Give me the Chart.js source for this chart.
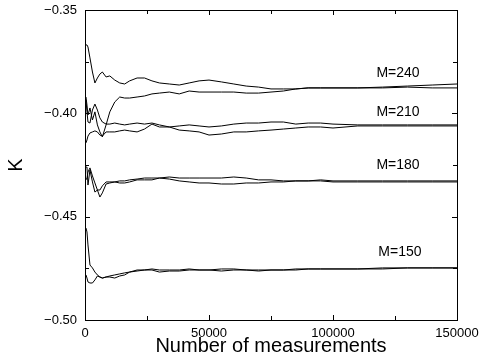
<!DOCTYPE html>
<html>
<head>
<meta charset="utf-8">
<script src="https://cdn.jsdelivr.net/npm/chart.js@4.4.1/dist/chart.umd.min.js"></script>
<style>
  html, body { margin: 0; padding: 0; background: #fff; }
  canvas { display: block; }
</style>
</head>
<body>
<canvas id="kChart" width="480" height="360"></canvas>
<script>
// number of measurements (x) shared by all runs
let measurements = [400, 800, 1200, 2000, 3000, 4000, 5000, 6000, 7000, 8500,
  10000, 12000, 14000, 16000, 18000, 21000, 24000, 27000, 30000, 34000,
  38000, 42000, 46000, 50000, 55000, 60000, 65000, 70000, 75000, 80000,
  85000, 90000, 95000, 100000, 110000, 120000, 130000, 140000, 150000];

// K estimates, two runs for each M
let m240a = [-0.3669, -0.3669, -0.3679, -0.3732, -0.3800, -0.3853, -0.3829, -0.3810, -0.3800, -0.3824,
  -0.3819, -0.3839, -0.3853, -0.3858, -0.3843, -0.3829, -0.3829, -0.3843, -0.3853, -0.3858,
  -0.3863, -0.3853, -0.3843, -0.3839, -0.3848, -0.3858, -0.3868, -0.3873, -0.3882, -0.3882,
  -0.3882, -0.3877, -0.3877, -0.3877, -0.3877, -0.3873, -0.3868, -0.3863, -0.3858];
let m240b = [-0.3921, -0.3960, -0.4008, -0.3974, -0.4032, -0.3993, -0.4056, -0.4090, -0.4114, -0.4056,
  -0.3993, -0.3945, -0.3921, -0.3926, -0.3926, -0.3921, -0.3916, -0.3906, -0.3902, -0.3897,
  -0.3906, -0.3892, -0.3897, -0.3897, -0.3897, -0.3897, -0.3902, -0.3902, -0.3897, -0.3892,
  -0.3882, -0.3877, -0.3877, -0.3877, -0.3877, -0.3877, -0.3873, -0.3877, -0.3877];
let m210a = [-0.3935, -0.3993, -0.4042, -0.4047, -0.3984, -0.3955, -0.3984, -0.4022, -0.4042, -0.4052,
  -0.4052, -0.4047, -0.4052, -0.4056, -0.4052, -0.4047, -0.4052, -0.4047, -0.4056, -0.4066,
  -0.4061, -0.4056, -0.4061, -0.4066, -0.4061, -0.4052, -0.4047, -0.4047, -0.4042, -0.4042,
  -0.4052, -0.4047, -0.4047, -0.4052, -0.4056, -0.4056, -0.4056, -0.4056, -0.4056];
let m210b = [-0.4143, -0.4129, -0.4110, -0.4095, -0.4090, -0.4085, -0.4090, -0.4105, -0.4110, -0.4090,
  -0.4090, -0.4090, -0.4085, -0.4081, -0.4085, -0.4090, -0.4076, -0.4052, -0.4066, -0.4066,
  -0.4081, -0.4085, -0.4090, -0.4105, -0.4100, -0.4090, -0.4090, -0.4085, -0.4081, -0.4076,
  -0.4071, -0.4066, -0.4066, -0.4071, -0.4061, -0.4061, -0.4061, -0.4061, -0.4061];
let m180a = [-0.4260, -0.4260, -0.4347, -0.4274, -0.4332, -0.4381, -0.4371, -0.4371, -0.4351, -0.4332,
  -0.4332, -0.4332, -0.4337, -0.4337, -0.4332, -0.4322, -0.4322, -0.4322, -0.4313, -0.4308,
  -0.4313, -0.4313, -0.4313, -0.4313, -0.4313, -0.4308, -0.4313, -0.4322, -0.4322, -0.4327,
  -0.4327, -0.4327, -0.4322, -0.4327, -0.4327, -0.4327, -0.4327, -0.4327, -0.4327];
let m180b = [-0.4322, -0.4313, -0.4284, -0.4264, -0.4303, -0.4337, -0.4371, -0.4405, -0.4385, -0.4342,
  -0.4337, -0.4332, -0.4327, -0.4327, -0.4322, -0.4318, -0.4313, -0.4313, -0.4313, -0.4318,
  -0.4327, -0.4332, -0.4337, -0.4337, -0.4342, -0.4342, -0.4337, -0.4337, -0.4332, -0.4332,
  -0.4327, -0.4327, -0.4327, -0.4332, -0.4332, -0.4332, -0.4332, -0.4332, -0.4332];
let m150a = [-0.4555, -0.4574, -0.4637, -0.4734, -0.4748, -0.4768, -0.4782, -0.4792, -0.4797, -0.4792,
  -0.4787, -0.4782, -0.4777, -0.4772, -0.4768, -0.4763, -0.4758, -0.4753, -0.4758, -0.4758,
  -0.4758, -0.4753, -0.4758, -0.4758, -0.4753, -0.4753, -0.4758, -0.4758, -0.4758, -0.4758,
  -0.4753, -0.4753, -0.4753, -0.4753, -0.4753, -0.4748, -0.4748, -0.4748, -0.4748];
let m150b = [-0.4782, -0.4797, -0.4816, -0.4821, -0.4821, -0.4806, -0.4787, -0.4792, -0.4797, -0.4792,
  -0.4792, -0.4797, -0.4787, -0.4782, -0.4768, -0.4758, -0.4758, -0.4758, -0.4768, -0.4763,
  -0.4763, -0.4758, -0.4758, -0.4758, -0.4763, -0.4758, -0.4758, -0.4763, -0.4758, -0.4758,
  -0.4758, -0.4753, -0.4753, -0.4753, -0.4753, -0.4753, -0.4748, -0.4748, -0.4748];

// axis ticks
let xTicks = [0, 50000, 100000, 150000];
let yTicks = [-0.50, -0.45, -0.40, -0.35];

// in-plot labels
let labelText = ["M=240", "M=210", "M=180", "M=150"];
let labelX = [126200, 126200, 126200, 127000];
let labelY = [-0.3805, -0.3993, -0.4250, -0.4671];

let fontFam = "'Liberation Sans', Arial, sans-serif";

function series(vals) {
  return {
    data: measurements.map((x, i) => ({ x: x, y: vals[i] })),
    borderColor: "#000",
    borderWidth: 1,
    pointRadius: 0,
    tension: 0,
    fill: false,
  };
}

// box with inward ticks on all four sides, plus the M= labels
let frame = {
  id: "frame",
  afterDraw(chart) {
    let c = chart.ctx;
    let a = chart.chartArea;
    let xs = chart.scales.x;
    let ys = chart.scales.y;
    c.save();
    c.strokeStyle = "#000";
    c.lineWidth = 1;
    c.strokeRect(Math.round(a.left) + 0.5, Math.round(a.top) + 0.5,
      Math.round(a.right - a.left), Math.round(a.bottom - a.top));
    c.beginPath();
    for (let v = 0; v <= 150000; v += 25000) {
      let len = xTicks.includes(v) ? 5 : 4;
      let px = Math.round(xs.getPixelForValue(v)) + 0.5;
      c.moveTo(px, a.bottom); c.lineTo(px, a.bottom - len);
      c.moveTo(px, a.top); c.lineTo(px, a.top + len);
    }
    for (let k = 0; k <= 6; k++) {
      let v = -0.50 + k * 0.025;
      let len = k % 2 === 0 ? 5 : 4;
      let py = Math.round(ys.getPixelForValue(v)) + 0.5;
      c.moveTo(a.left, py); c.lineTo(a.left + len, py);
      c.moveTo(a.right, py); c.lineTo(a.right - len, py);
    }
    c.stroke();
    c.fillStyle = "#000";
    c.font = "14px " + fontFam;
    c.textAlign = "center";
    c.textBaseline = "middle";
    labelText.forEach((t, i) => {
      c.fillText(t, xs.getPixelForValue(labelX[i]), ys.getPixelForValue(labelY[i]));
    });
    c.restore();
  },
};

let ctx = document.getElementById("kChart").getContext("2d");

let kChart = new Chart(ctx, {
  type: "line",
  data: {
    datasets: [m240a, m240b, m210a, m210b, m180a, m180b, m150a, m150b].map(series),
  },
  plugins: [frame],
  options: {
    responsive: false,
    animation: false,
    devicePixelRatio: 1,
    layout: { padding: { left: 0, right: 23, top: 10, bottom: 0 } },
    plugins: { legend: { display: false }, tooltip: { enabled: false } },
    scales: {
      x: {
        type: "linear",
        min: 0,
        max: 150000,
        afterFit: (s) => { s.height = 40; s.paddingLeft = 0; s.paddingRight = 0; },
        afterBuildTicks: (s) => { s.ticks = xTicks.map((v) => ({ value: v })); },
        ticks: {
          color: "#000",
          font: { family: fontFam, size: 13 },
          padding: 6,
          maxRotation: 0,
          callback: (v) => String(v),
        },
        grid: { display: false, drawTicks: false },
        border: { display: false },
        title: {
          display: true,
          text: "Number of measurements",
          color: "#000",
          font: { family: fontFam, size: 20 },
          padding: { top: 0, bottom: 2 },
        },
      },
      y: {
        type: "linear",
        min: -0.5,
        max: -0.35,
        afterFit: (s) => { s.width = 85; s.paddingTop = 0; s.paddingBottom = 0; },
        afterBuildTicks: (s) => { s.ticks = yTicks.map((v) => ({ value: v })); },
        ticks: {
          color: "#000",
          font: { family: fontFam, size: 13 },
          padding: 8,
          callback: (v) => v.toFixed(2).replace("-", "\u2212"),
        },
        grid: { display: false, drawTicks: false },
        border: { display: false },
        title: {
          display: true,
          text: "K",
          color: "#000",
          font: { family: fontFam, size: 20 },
          padding: { top: 4, bottom: 0 },
        },
      },
    },
  },
});
</script>
</body>
</html>
